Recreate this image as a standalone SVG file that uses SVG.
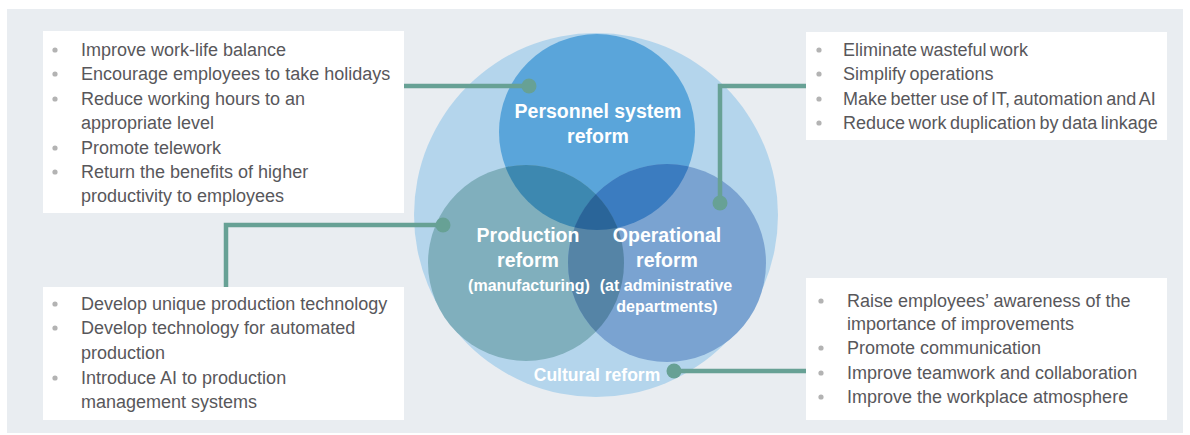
<svg xmlns="http://www.w3.org/2000/svg" width="1190" height="435" viewBox="0 0 1190 435">
  <style>
    .panel { fill: #e9edf1; }
    .box { fill: #ffffff; }
    .item { font-family: "Liberation Sans", Arial, sans-serif; font-size: 18px; fill: #58575b; }
    .tight { word-spacing: -1.5px; }
    .dot { fill: #b3b3b3; }
    .title { font-family: "Liberation Sans", Arial, sans-serif; font-weight: bold; fill: #ffffff; text-anchor: middle; }
    .big { font-size: 19.5px; }
    .small { font-size: 16px; }
    .link { fill: none; stroke: #67a195; stroke-width: 4.5; }
    .end { fill: #67a195; }
  </style>
  <defs>
    <clipPath id="clipTop"><circle cx="597" cy="132" r="98"/></clipPath>
    <clipPath id="clipLeft"><circle cx="526" cy="263" r="98"/></clipPath>
    <clipPath id="clipRight"><circle cx="667" cy="263" r="99"/></clipPath>
  </defs>

  <rect class="panel" x="7" y="9" width="1176" height="424"/>

  <!-- Venn of the four reforms -->
  <g id="cultural-reform">
    <circle cx="596" cy="215" r="182" fill="#b4d5ec"/>
    <text class="title" x="597" y="381" font-size="17.5">Cultural reform</text>
  </g>
  <g id="personnel-reform">
    <circle cx="597" cy="132" r="98" fill="#5aa5da"/>
  </g>
  <g id="production-reform">
    <circle cx="526" cy="263" r="98" fill="#80afbd"/>
  </g>
  <g id="operational-reform">
    <circle cx="667" cy="263" r="99" fill="#7aa3d1"/>
  </g>
  <g id="overlaps">
    <circle cx="526" cy="263" r="98" fill="#3d88b0" clip-path="url(#clipTop)"/>
    <circle cx="667" cy="263" r="99" fill="#3b7cc0" clip-path="url(#clipTop)"/>
    <circle cx="667" cy="263" r="99" fill="#5584a6" clip-path="url(#clipLeft)"/>
    <g clip-path="url(#clipTop)">
      <circle cx="667" cy="263" r="99" fill="#2a6599" clip-path="url(#clipLeft)"/>
    </g>
  </g>
  <g id="circle-labels">
    <text class="title big" x="598" y="118">Personnel system</text>
    <text class="title big" x="598" y="143">reform</text>
    <text class="title big" x="528" y="242">Production</text>
    <text class="title big" x="528" y="267">reform</text>
    <text class="title small" x="529" y="291">(manufacturing)</text>
    <text class="title big" x="667" y="242">Operational</text>
    <text class="title big" x="667" y="267">reform</text>
    <text class="title small" x="666" y="291">(at administrative</text>
    <text class="title small" x="667" y="312">departments)</text>
  </g>

  <!-- Connectors from each reform to its list -->
  <g id="connectors">
    <path class="link" d="M404 86 H529"/>
    <circle class="end" cx="529" cy="86" r="7.5"/>
    <path class="link" d="M806 86 H720 V203"/>
    <circle class="end" cx="720" cy="203" r="7.5"/>
    <path class="link" d="M226 287 V225 H443"/>
    <circle class="end" cx="443" cy="225" r="7.5"/>
    <path class="link" d="M806 371 H674"/>
    <circle class="end" cx="674" cy="371" r="7.5"/>
  </g>

  <!-- Personnel system measures -->
  <g id="list-personnel">
    <rect class="box" x="43" y="31" width="361" height="182"/>
    <circle class="dot" cx="55" cy="50" r="2.6"/>
    <circle class="dot" cx="55" cy="74" r="2.6"/>
    <circle class="dot" cx="55" cy="99" r="2.6"/>
    <circle class="dot" cx="55" cy="148" r="2.6"/>
    <circle class="dot" cx="55" cy="172" r="2.6"/>
    <text class="item" x="81" y="56">Improve work-life balance</text>
    <text class="item" x="81" y="80">Encourage employees to take holidays</text>
    <text class="item" x="81" y="105">Reduce working hours to an</text>
    <text class="item" x="81" y="129">appropriate level</text>
    <text class="item" x="81" y="154">Promote telework</text>
    <text class="item" x="81" y="178">Return the benefits of higher</text>
    <text class="item" x="81" y="202">productivity to employees</text>
  </g>

  <!-- Operational measures -->
  <g id="list-operational">
    <rect class="box" x="806" y="32" width="361" height="108"/>
    <circle class="dot" cx="819" cy="50" r="2.6"/>
    <circle class="dot" cx="819" cy="74" r="2.6"/>
    <circle class="dot" cx="819" cy="99" r="2.6"/>
    <circle class="dot" cx="819" cy="123" r="2.6"/>
    <text class="item tight" x="843" y="56">Eliminate wasteful work</text>
    <text class="item tight" x="843" y="80">Simplify operations</text>
    <text class="item tight" x="843" y="105">Make better use of IT, automation and AI</text>
    <text class="item tight" x="843" y="129">Reduce work duplication by data linkage</text>
  </g>

  <!-- Production measures -->
  <g id="list-production">
    <rect class="box" x="43" y="287" width="361" height="133"/>
    <circle class="dot" cx="55" cy="304" r="2.6"/>
    <circle class="dot" cx="55" cy="328" r="2.6"/>
    <circle class="dot" cx="55" cy="378" r="2.6"/>
    <text class="item" x="81" y="310">Develop unique production technology</text>
    <text class="item" x="81" y="334">Develop technology for automated</text>
    <text class="item" x="81" y="359">production</text>
    <text class="item" x="81" y="384">Introduce AI to production</text>
    <text class="item" x="81" y="408">management systems</text>
  </g>

  <!-- Cultural measures -->
  <g id="list-cultural">
    <rect class="box" x="806" y="278" width="361" height="142"/>
    <circle class="dot" cx="821" cy="301" r="2.6"/>
    <circle class="dot" cx="821" cy="348" r="2.6"/>
    <circle class="dot" cx="821" cy="373" r="2.6"/>
    <circle class="dot" cx="821" cy="397" r="2.6"/>
    <text class="item" x="847" y="307">Raise employees’ awareness of the</text>
    <text class="item" x="847" y="330">importance of improvements</text>
    <text class="item" x="847" y="354">Promote communication</text>
    <text class="item" x="847" y="379">Improve teamwork and collaboration</text>
    <text class="item" x="847" y="403">Improve the workplace atmosphere</text>
  </g>
</svg>
